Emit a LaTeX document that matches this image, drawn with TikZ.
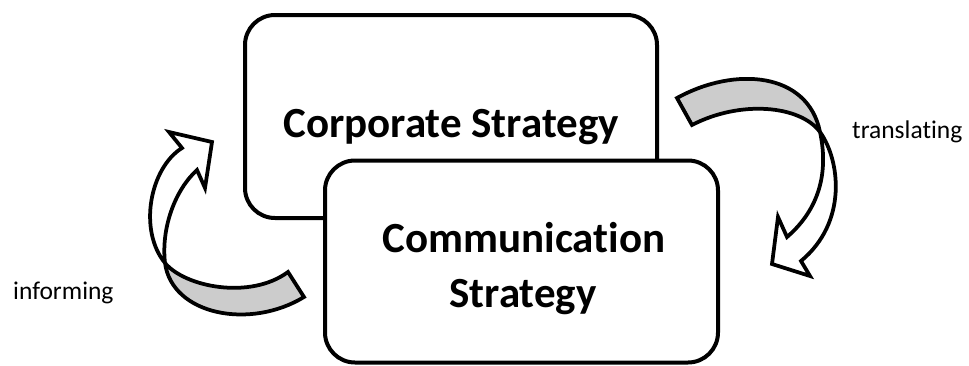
\documentclass[tikz,border=0pt]{standalone}
\usepackage{fontspec}
\setmainfont{Carlito}[Ligatures={NoCommon}]
\definecolor{bandgray}{HTML}{CCCCCC}
\newcommand{\RightBand}{(677,98) .. controls (735,66) and (808,72) .. (820,132) .. controls (830,178) and (815,213) .. (787,237) -- (778,217) -- (772,264) -- (810,276) -- (801,261) .. controls (848,222) and (840,160) .. (820,132) .. controls (800,105) and (740,100) .. (692,125) -- cycle}
\newcommand{\LeftBand}{(182,148) .. controls (150,168) and (138,230) .. (165,263) .. controls (185,287) and (250,300) .. (288,272) -- (304,297) .. controls (250,330) and (172,315) .. (165,263) .. controls (161,228) and (175,190) .. (197,170) -- (205,188) -- (212,142) -- (169,132) -- cycle}
\begin{document}
\begin{tikzpicture}[x=1pt,y=-1pt,
  box/.style={draw=black, line width=4pt, rounded corners=30pt, fill=white, inner sep=0pt},
  title/.style={font=\bfseries\fontsize{43}{50}\selectfont, anchor=base, inner sep=0pt},
  lbl/.style={font=\fontsize{25.5}{30}\selectfont, anchor=base west, inner sep=0pt},
  arrowline/.style={draw=black, line width=3.75pt, line join=miter, miter limit=10}
]
\useasboundingbox (0,0) rectangle (969,365);
% boxes
\node[box, minimum width=412pt, minimum height=203pt] (corp) at (451,116.5) {};
\node[title] (corptext) at (451,137) {Corporate Strategy};
\node[box, minimum width=393pt, minimum height=202pt] (comm) at (521.5,261.5) {};
\node[title] (commtext1) at (524,252) {Communication};
\node[title] (commtext2) at (523,307) {Strategy};
% right curved arrow (translating)
\fill[white] \RightBand;
\begin{scope}
  \clip (600,0) rectangle (900,132);
  \fill[bandgray] \RightBand;
\end{scope}
\draw[arrowline] \RightBand;
% left curved arrow (informing)
\fill[white] \LeftBand;
\begin{scope}
  \clip (100,263) rectangle (350,365);
  \fill[bandgray] \LeftBand;
\end{scope}
\draw[arrowline] \LeftBand;
% labels
\node[lbl] (translating) at (852,138) {translating};
\node[lbl] (informing) at (13,299) {informing};
\end{tikzpicture}
\end{document}
